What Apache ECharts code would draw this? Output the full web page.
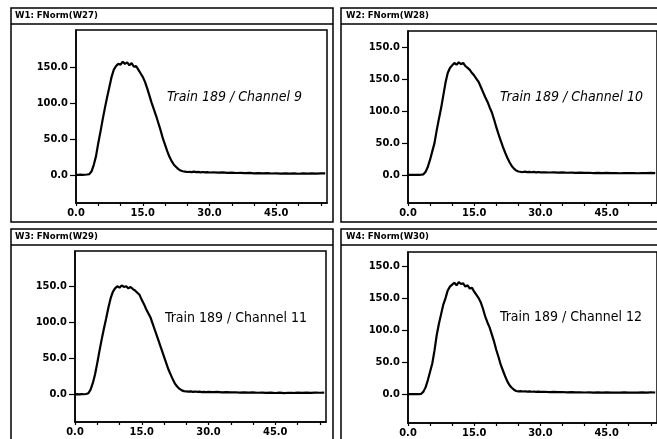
<!DOCTYPE html>
<html>
<head>
<meta charset="utf-8">
<script src="https://cdn.jsdelivr.net/npm/echarts@6/dist/echarts.min.js"></script>
<style>
html,body{margin:0;padding:0;background:#fff;}
#c{width:657px;height:439px;}
</style>
</head>
<body>
<div id="c"></div>
<script>
// ---- data ----
var xs = [0,0.5,1,1.5,2,2.5,3,3.5,4,4.5,5,5.5,6,6.5,7,7.5,8,8.5,9,9.5,10,10.5,11,11.5,12,12.5,13,13.5,14,14.5,15,15.5,16,16.5,17,17.5,18,18.5,19,19.5,20,20.5,21,21.5,22,22.5,23,23.5,24,24.5,25,25.5,26,26.5,27,27.5,28,28.5,29,29.5,30,
  31,32,33,34,35,36,37,38,39,40,41,42,43,44,45,46,47,48,49,50,51,52,53,54,55,56];

var ch9 = [0,0,0.3,0,0.2,0.5,1,5,14,26,44,60,77,93,108,122,136,146,151,154,153,157,154,156,152,155,150,151,146,141,136,129,120,110,100,91,82,72,62,51,42,33,25,19,14,11,8,6,5,4.5,4,4.2,3.8,4.5,3.9,4.1,3.6,4.0,3.4,3.8,3.3,
  3.6,3.1,3.4,2.9,3.2,2.6,2.9,2.4,2.7,2.2,2.5,2.0,2.4,1.9,2.2,1.8,2.1,1.7,2.0,1.6,2.0,1.7,2.1,1.8,2.2,2.0];

var ch10 = [0,0.3,0,0.2,0,0.3,0.5,1,5,13,24,37,50,70,88,105,125,145,160,168,172,176,173,177,174,176,171,168,165,160,156,151,146,138,130,122,115,106,98,87,75,64,54,44,35,27,20,14,10,7,5.5,5,4.6,5.2,4.5,4.9,4.3,4.8,4.2,4.6,4.0,
  4.3,3.9,4.2,3.7,4.0,3.5,3.8,3.3,3.6,3.2,3.5,3.0,3.4,2.9,3.2,2.8,3.1,2.7,3.0,2.8,3.1,2.7,3.0,2.9,3.2,3.0];

var ch11 = [-0.5,-0.3,-0.6,-0.2,-0.4,0,1,6,15,27,43,60,76,91,105,120,133,142,147,150,148,151,149,150,147,149,146,144,141,138,131,125,118,112,106,97,88,79,70,61,52,43,34,27,20,14,10,7,5,4,3.5,3.2,3.6,3.0,3.4,2.9,3.2,2.7,3.0,2.6,2.9,
  2.5,2.8,2.3,2.6,2.1,2.4,2.0,2.3,1.8,2.1,1.7,2.0,1.5,1.9,1.4,1.8,1.3,1.7,1.4,1.8,1.5,1.9,1.6,2.0,1.7,1.9];

var ch12 = [0,0.2,0,0.3,0,0.2,0.6,4,11,22,35,48,68,92,110,125,140,150,162,168,171,174,170,175,172,173,168,170,165,166,160,155,150,143,133,121,112,104,93,82,69,58,46,37,28,20,14,10,7,5,4.5,4.8,4.2,4.6,4.0,4.4,3.8,4.2,3.6,4.0,3.5,
  3.8,3.3,3.6,3.1,3.4,2.9,3.2,2.7,3.0,2.6,2.9,2.5,2.8,2.4,2.7,2.3,2.6,2.4,2.7,2.3,2.6,2.4,2.7,2.5,2.8,2.6];

var xTickLabels = ["0.0","15.0","30.0","45.0"];
var xLabelValues = [0,15,30,45];
var yTicksA = [0,50,100,150];
var yLabelsA = ["0.0","50.0","100.0","150.0"];
var yTicksB = [0,50,100,150,200];
var yLabelsB = ["0.0","50.0","100.0","150.0","150.0"];

var panelTitles = ["W1: FNorm(W27)","W2: FNorm(W28)","W3: FNorm(W29)","W4: FNorm(W30)"];
var notes = ["Train 189 / Channel 9","Train 189 / Channel 10","Train 189 / Channel 11","Train 189 / Channel 12"];

// ---- layout (styles/positions) ----
var FONT = '"DejaVu Sans Condensed", "DejaVu Sans", sans-serif';
var panels = [
  {grid:{left:76, top:30, width:251, height:173}, ymin:-39, ymax:201, ticks:yTicksA, labels:yLabelsA, data:ch9,  noteX:167, noteY:90,  italic:true,
   box:[11,8,322,214], title:[15,11]},
  {grid:{left:408,top:31, width:251, height:172}, ymin:-44, ymax:226, ticks:yTicksB, labels:yLabelsB, data:ch10, noteX:500, noteY:90,  italic:true,
   box:[341,8,330,214], title:[346,11]},
  {grid:{left:75, top:251, width:251, height:171}, ymin:-39, ymax:199, ticks:yTicksA, labels:yLabelsA, data:ch11, noteX:165, noteY:311, italic:false,
   box:[11,229,322,214], title:[15,232]},
  {grid:{left:408,top:252, width:251, height:171}, ymin:-45, ymax:222, ticks:yTicksB, labels:yLabelsB, data:ch12, noteX:500, noteY:310, italic:false,
   box:[341,229,330,214], title:[346,232]}
];

var option = {backgroundColor:'#fff', animation:false, grid:[], xAxis:[], yAxis:[], series:[], title:[], graphic:[]};

panels.forEach(function(p, i){
  option.grid.push({left:p.grid.left, top:p.grid.top, width:p.grid.width, height:p.grid.height,
    show:true, borderColor:'#000', borderWidth:1.5, backgroundColor:'transparent'});
  option.xAxis.push({type:'value', gridIndex:i, min:0, max:56.4, interval:5,
    axisLine:{show:true, onZero:false, lineStyle:{color:'#000', width:1.5}},
    axisTick:{show:true, inside:false, length:3, lineStyle:{color:'#000', width:1.2}},
    splitLine:{show:false},
    axisLabel:{show:true, margin:5, color:'#000', fontFamily:FONT, fontWeight:'bold', fontSize:11,
      showMaxLabel:false,
      formatter:function(v){ var k = xLabelValues.indexOf(v); return k >= 0 ? xTickLabels[k] : ''; }}
  });
  option.yAxis.push({type:'value', gridIndex:i, min:p.ymin, max:p.ymax,
    axisLine:{show:true, onZero:false, lineStyle:{color:'#000', width:1.5}},
    axisTick:{show:true, inside:false, length:6, customValues:p.ticks, lineStyle:{color:'#000', width:1.2}},
    splitLine:{show:false},
    axisLabel:{show:true, margin:8, color:'#000', fontFamily:FONT, fontWeight:'bold', fontSize:11,
      customValues:p.ticks,
      formatter:function(v){ var k = p.ticks.indexOf(v); return k >= 0 ? p.labels[k] : ''; }}
  });
  option.series.push({type:'line', xAxisIndex:i, yAxisIndex:i, showSymbol:false, smooth:false,
    lineStyle:{color:'#000', width:2.2}, silent:true,
    data: xs.map(function(x, j){ return [x, p.data[j]]; })});
  option.title.push({text:panelTitles[i], left:p.title[0], top:p.title[1], padding:0,
    textStyle:{fontFamily:FONT, fontWeight:'bold', fontSize:9.5, color:'#000'}});
  option.title.push({text:notes[i], left:p.noteX, top:p.noteY, padding:0,
    textStyle:{fontFamily:FONT, fontWeight:'normal', fontStyle:p.italic?'italic':'normal', fontSize:14, color:'#000'}});
  option.graphic.push({type:'rect', shape:{x:p.box[0], y:p.box[1], width:p.box[2], height:p.box[3]},
    style:{fill:'none', stroke:'#000', lineWidth:1.5}, silent:true});
  option.graphic.push({type:'line', shape:{x1:p.box[0], y1:p.box[1]+16, x2:p.box[0]+p.box[2], y2:p.box[1]+16},
    style:{stroke:'#000', lineWidth:1.5}, silent:true});
});

var chart = echarts.init(document.getElementById('c'), null, {renderer:'canvas'});
chart.setOption(option);
</script>
</body>
</html>
